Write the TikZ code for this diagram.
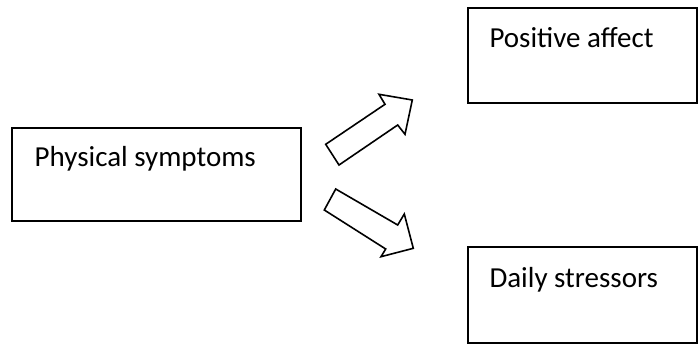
\documentclass[tikz,border=0pt]{standalone}
\usepackage{fontspec}
\setmainfont{Carlito}
\begin{document}
\begin{tikzpicture}[x=1pt,y=-1pt,
  boxline/.style={draw=black,line width=2pt,fill=white},
  blockarrow/.style={draw=black,line width=1.6pt,line join=miter,fill=white},
  label/.style={anchor=base west,inner sep=0pt,font=\fontsize{29}{35}\selectfont}]
\useasboundingbox (0,0) rectangle (699,345);
% boxes
\draw[boxline] (12,128) rectangle (301,221);
\draw[boxline] (468,8) rectangle (697,103);
\draw[boxline] (468,247) rectangle (697,343);
\node[label] (phys) at (34.5,166.7) {Physical symptoms};
\node[label] (pos) at (489.3,47.3) {Positive affect};
\node[label] (daily) at (489.3,287.3) {Daily stressors};
% block arrows
\draw[blockarrow] (325.7,144.3) -- (385,104.3) -- (379,94.3) -- (412.3,100)
  -- (405,134.3) -- (397.7,125) -- (339,165) -- cycle;
\draw[blockarrow] (335.7,189) -- (397.7,225) -- (404.3,214) -- (413.3,248.3)
  -- (381,256.7) -- (385.7,249) -- (324.3,210) -- cycle;
\end{tikzpicture}
\end{document}
